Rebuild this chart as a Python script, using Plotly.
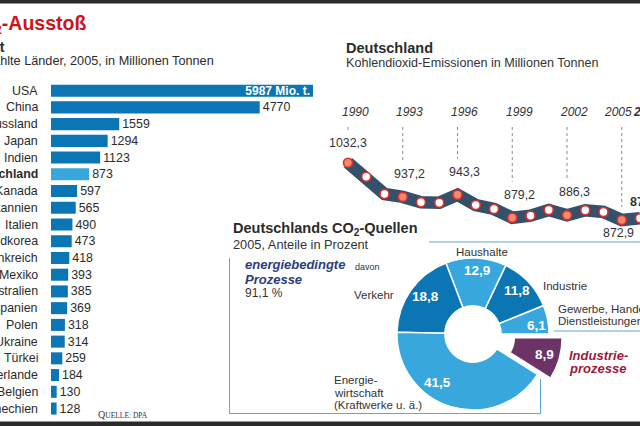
import math
import plotly.graph_objects as go

# ---------------- data ----------------
countries = ["USA", "China", "Russland", "Japan", "Indien", "Deutschland", "Kanada",
             "Großbritannien", "Italien", "Südkorea", "Frankreich", "Mexiko", "Australien",
             "Spanien", "Polen", "Ukraine", "Türkei", "Niederlande", "Belgien", "Tschechien"]
emissions = [5987, 4770, 1559, 1294, 1123, 873, 597, 565, 490, 473, 418, 393, 385,
             369, 318, 314, 259, 184, 130, 128]

years = list(range(1990, 2007))
de_emissions = [1032.3, 993.4, 945.2, 937.2, 922.1, 921.0, 943.3, 914.6, 903.5, 879.2,
                884.9, 900.7, 886.3, 899.9, 895.2, 872.9, 877.9]
label_years = [1990, 1993, 1996, 1999, 2002, 2005, 2006]

source_labels = ["Gewerbe, Handel, Dienstleistungen", "Industrie", "Haushalte", "Verkehr",
                 "Energiewirtschaft (Kraftwerke u. ä.)", "Industrieprozesse"]
source_shares = [6.1, 11.8, 12.9, 18.8, 41.5, 8.9]
energy_share = 91.1

# ---------------- helpers ----------------
W, H = 640, 426
def px(x):
    return x / W
def py(y):
    return 1 - y / H

FONT = "Liberation Sans, Arial, sans-serif"
DARK_BLUE = "#0b76b3"
LIGHT_BLUE = "#38a7dd"
PURPLE = "#6c3466"
TXT = "#2b2b2b"

def de_num(v, d=1):
    return f"{v:.{d}f}".replace(".", ",")

fig = go.Figure()

# ---------------- bar chart ----------------
bar_colors = [LIGHT_BLUE if c == "Deutschland" else DARK_BLUE for c in countries]
bar_text = [f"<b>{v} Mio. t.</b>" if i == 0 else str(v) for i, v in enumerate(emissions)]
bar_pos = ["inside" if i == 0 else "outside" for i in range(len(emissions))]
fig.add_trace(go.Bar(
    x=emissions, y=countries, orientation="h", xaxis="x", yaxis="y",
    marker=dict(color=bar_colors, line=dict(width=0)), width=0.72,
    text=bar_text, textposition=bar_pos, insidetextanchor="end", constraintext="none",
    insidetextfont=dict(color="white", size=12, family=FONT),
    outsidetextfont=dict(color=TXT, size=12.4, family=FONT),
    textangle=0, cliponaxis=False, hoverinfo="skip", showlegend=False,
))

# ---------------- line chart ----------------
X2_L, X2_R = 320, 640
ppy = (640 - 348) / 16.0
x2_range = [1990 - (348 - X2_L) / ppy, 2006]
Y2_T, Y2_B = 100, 240
scale = 0.3595
y2_top = 1032.3 + (162.7 - Y2_T) / scale
y2_bot = 1032.3 - (Y2_B - 162.7) / scale

def px_to_val(p):
    return y2_top - (p - Y2_T) / scale

def val_to_px(v):
    return Y2_T + (y2_top - v) * scale

marker_fill = ["#f08a6b" if (y in label_years and y != 2006) else "white" for y in years]
fig.add_trace(go.Scatter(
    x=years, y=de_emissions, xaxis="x2", yaxis="y2", mode="lines",
    line=dict(color="#34506a", width=12.5), hoverinfo="skip", showlegend=False,
))
fig.add_trace(go.Scatter(
    x=years, y=de_emissions, xaxis="x2", yaxis="y2", mode="markers",
    marker=dict(size=9, color=marker_fill, line=dict(color="#e0302a", width=1.6)),
    cliponaxis=False, hoverinfo="skip", showlegend=False,
))

# ---------------- donut ----------------
cx, cy, r = 473, 334, 76
maxpull = 0.18
pulls = [0, 0, 0, 0, 0, maxpull]
half = r * (1 + maxpull)
fig.add_trace(go.Pie(
    labels=source_labels, values=source_shares, sort=False, direction="counterclockwise",
    rotation=68, hole=0.37, pull=pulls,
    marker=dict(colors=[LIGHT_BLUE, DARK_BLUE, LIGHT_BLUE, DARK_BLUE, LIGHT_BLUE, PURPLE],
                line=dict(color="white", width=1.5)),
    textinfo="none",
    domain=dict(x=[px(cx - half), px(cx + half)], y=[py(cy + half), py(cy - half)]),
    hoverinfo="skip", showlegend=False,
))

# ---------------- annotations ----------------
ann = []
def text(x, y, s, size=12, color=TXT, anchor="left", family=FONT, valign="middle"):
    ann.append(dict(x=px(x), y=py(y), xref="paper", yref="paper", text=s, showarrow=False,
                    xanchor=anchor, yanchor=valign, font=dict(size=size, color=color, family=family)))

# slice value labels, placed along each slice's mid angle (ring's outer part)
label_radius = [64, 62, 64, 61, 60, 61]
label_turn = [-3.5, 2, -1, -3, -19, 0]
start = 0.0
for i, v in enumerate(source_shares):
    span = v / sum(source_shares) * 360
    mid = start + span / 2
    start += span
    rr = label_radius[i] + pulls[i] * r
    a = math.radians(mid + label_turn[i])
    text(cx + rr * math.cos(a), cy - rr * math.sin(a), f"<b>{de_num(v)}</b>",
         size=13.5, color="white", anchor="center")

# headings, left
text(88, 25, "<b>CO<sub>2</sub>-Ausstoß</b>", size=19.5, color="#d0121b", anchor="right")
text(7, 47, "<b>Welt</b>", size=14, anchor="right")
text(216, 61, "Ausgewählte Länder, 2005, in Millionen Tonnen", size=12.7, anchor="right")

# country labels
for c in countries:
    s = f"<b>{c}</b>" if c == "Deutschland" else c
    ann.append(dict(x=px(40), y=c, xref="paper", yref="y", text=s, showarrow=False,
                    xanchor="right", yanchor="middle", font=dict(size=12.4, color=TXT, family=FONT)))

text(96, 414, "Q<span style='font-size:7.5px'>UELLE: DPA</span>", size=10, color="#333",
     family="Liberation Serif, DejaVu Serif, serif")

# line chart headings
text(344, 48, "<b>Deutschland</b>", size=14.5)
text(344, 63, "Kohlendioxid-Emissionen in Millionen Tonnen", size=12.6, color="#333")

for yr in label_years:
    v = de_emissions[years.index(yr)]
    bold = yr == 2006
    ylab = f"<b><i>{yr}</i></b>" if bold else f"<i>{yr}</i>"
    ann.append(dict(x=yr, y=px_to_val(112), xref="x2", yref="y2", text=ylab, showarrow=False,
                    xanchor="center", yanchor="middle", xshift=-4 if yr == 2005 else 7,
                    font=dict(size=12, color="#333", family=FONT)))
    if yr == 2005:
        ysh, xsh = -13, -3
    elif yr == 2006:
        ysh, xsh = 16, 5
    elif yr == 1990:
        ysh, xsh = 20, 0
    else:
        ysh, xsh = 23, 7
    vt = f"<b>{de_num(v)}</b>" if bold else de_num(v)
    ann.append(dict(x=yr, y=v, xref="x2", yref="y2", text=vt, showarrow=False,
                    xanchor="center", yanchor="middle", xshift=xsh, yshift=ysh,
                    font=dict(size=12.4, color="#333", family=FONT)))

# donut headings / labels
text(231, 229, "<b>Deutschlands CO<sub>2</sub>-Quellen</b>", size=14.5)
text(231, 244, "2005, Anteile in Prozent", size=12.8, color="#333")
text(243, 264, "<b><i>energiebedingte</i></b>", size=13, color="#2c3d7b")
text(243, 279, "<b><i>Prozesse</i></b>", size=13, color="#2c3d7b")
text(243, 293, f"{de_num(energy_share)} %", size=12, color="#333")
text(367, 267, "davon", size=9, color="#333", anchor="center")
text(482, 252, "Haushalte", size=11.5, color="#333", anchor="center")
text(374, 295, "Verkehr", size=11.5, color="#333", anchor="center")
text(541, 286, "Industrie", size=11.5, color="#333")
text(556, 309, "Gewerbe, Handel,", size=11.5, color="#333")
text(556, 321, "Dienstleistungen", size=11.5, color="#333")
text(567, 355, "<b><i>Industrie-</i></b>", size=13, color="#9b1b3b")
text(567, 368, "<b><i>prozesse</i></b>", size=13, color="#9b1b3b")
text(332, 380, "Energie-", size=11.5, color="#333")
text(332, 393, "wirtschaft", size=11.5, color="#333")
text(332, 405, "(Kraftwerke u. ä.)", size=11.5, color="#333")

# ---------------- shapes ----------------
shapes = []
def line(x0, y0, x1, y1, color="#5aa9d8", width=1, dash=None):
    d = dict(type="line", xref="paper", yref="paper", x0=px(x0), y0=py(y0), x1=px(x1), y1=py(y1),
             line=dict(color=color, width=width))
    if dash:
        d["line"]["dash"] = dash
    shapes.append(d)

shapes.append(dict(type="rect", xref="paper", yref="paper", x0=0, x1=1, y0=py(3.5), y1=1,
                   fillcolor="#2a2a2a", line=dict(width=0), layer="above"))
shapes.append(dict(type="rect", xref="paper", yref="paper", x0=0, x1=1, y0=0, y1=py(421.5),
                   fillcolor="#2a2a2a", line=dict(width=0), layer="above"))
# frames
line(229.5, 258, 229.5, 413.5)
line(229.5, 413.5, 540.5, 413.5)
line(540.5, 379, 540.5, 413.5)
line(429, 242, 640, 242)
line(554, 331, 640, 331)

# dotted guides
for yr in label_years:
    if yr == 2006:
        continue
    v = de_emissions[years.index(yr)]
    p = val_to_px(v)
    bottom = p - 13 if yr == 2005 else max(p - 36, 132)
    shapes.append(dict(type="line", xref="x2", yref="y2", x0=yr, x1=yr,
                       y0=px_to_val(127), y1=px_to_val(bottom),
                       line=dict(color="#8a8a8a", width=1, dash="dot"), layer="below"))

fig.update_layout(
    width=W, height=H, margin=dict(l=0, r=0, t=0, b=0),
    paper_bgcolor="white", plot_bgcolor="rgba(0,0,0,0)",
    font=dict(family=FONT, size=12, color=TXT),
    xaxis=dict(domain=[px(51), px(313)], range=[0, 5987], visible=False, fixedrange=True),
    yaxis=dict(domain=[py(416.9), py(82.3)], range=[19.5, -0.5], visible=False,
               type="category", categoryorder="array", categoryarray=countries),
    xaxis2=dict(domain=[px(X2_L), px(X2_R)], range=x2_range, visible=False, anchor="y2"),
    yaxis2=dict(domain=[py(Y2_B), py(Y2_T)], range=[y2_bot, y2_top], visible=False, anchor="x2"),
    annotations=ann, shapes=shapes, bargap=0.28,
)

fig.write_html("out.html", config={"displayModeBar": False},
               post_script="document.body.style.margin='0px';document.body.style.overflow='hidden';")
